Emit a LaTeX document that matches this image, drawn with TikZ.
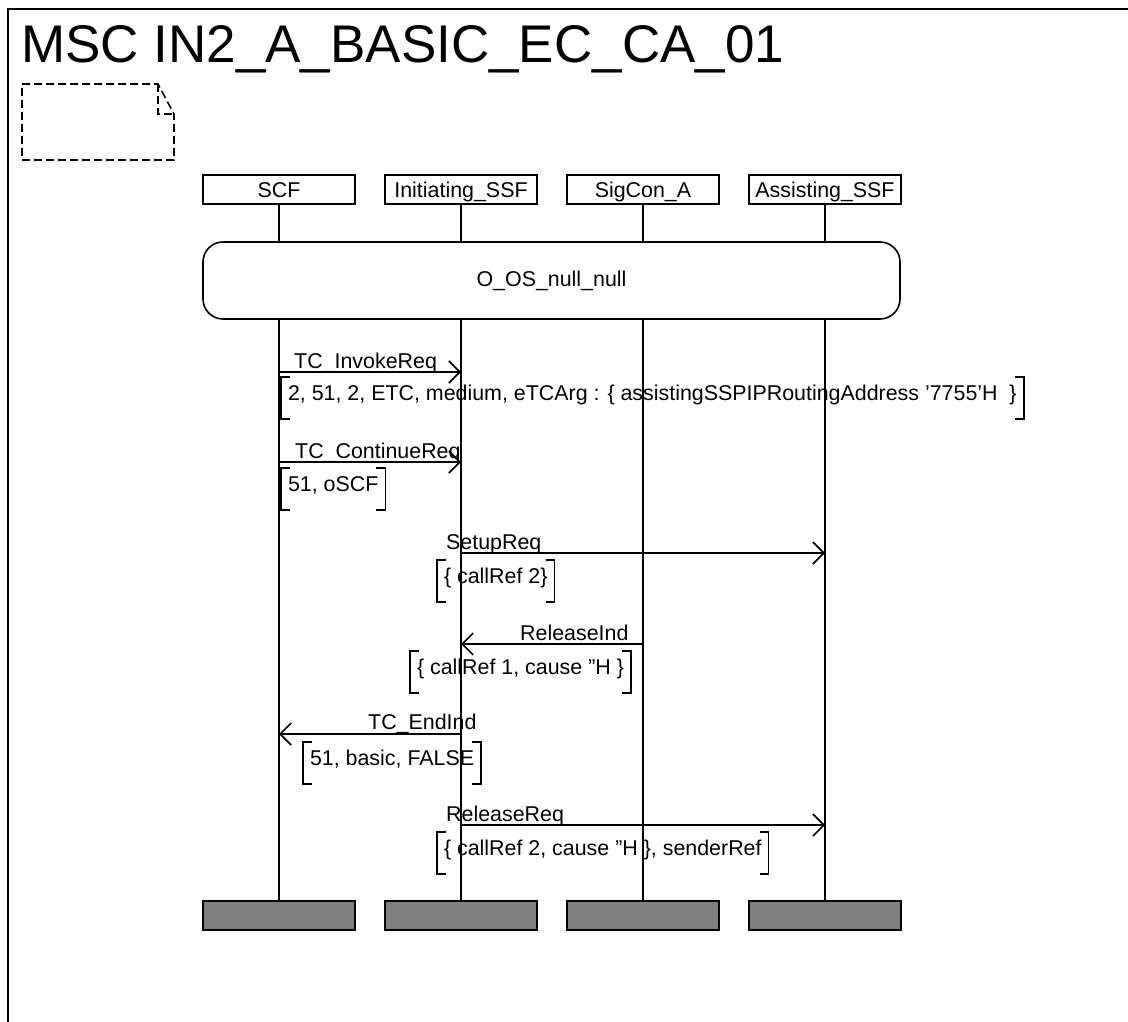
\documentclass[tikz,border=0pt]{standalone}
\usepackage{fontspec}
\setmainfont{Liberation Sans}
\usepackage{xcolor}
\definecolor{cLine}{HTML}{000000}
\definecolor{cStop}{HTML}{808080}
\usepackage{tikz}
\usetikzlibrary{positioning,arrows.meta}
\newcommand{\mscfont}{\fontsize{21.4}{25}\selectfont}
\tikzset{
  msc-head/.style={draw=cLine,line width=1.6pt,minimum width=152pt,
    minimum height=29pt,inner sep=0pt,outer sep=0pt,
    text height=16pt,text depth=0pt,font=\mscfont},
  msc-stop/.style={msc-head,fill=cStop},
  msc-ref/.style={draw=cLine,line width=1.6pt,rounded corners=20pt,
    minimum width=697pt,minimum height=77pt,outer sep=0pt,font=\mscfont},
  lifeline/.style={draw=cLine,line width=1.6pt},
  msg/.style={-{Straight Barb[length=11pt,width=22pt]},line width=1.6pt,draw=cLine},
  msg-label/.style={anchor=base west,inner sep=0pt,font=\mscfont},
  % parameter block: text between square brackets under the message
  param/.style={anchor=north west,inner xsep=7pt,inner ysep=0pt,outer sep=0pt,
    minimum height=42pt,text height=15pt,text depth=11pt,font=\mscfont},
  bracket/.style={draw=cLine,line width=1.6pt},
  note/.style={draw=cLine,line width=1.6pt,dash pattern=on 8pt off 4pt},
}
\newcommand{\parbrackets}[1]{%
  \draw[bracket] ([xshift=9pt]#1.north west) -- (#1.north west) -- (#1.south west) -- ([xshift=9pt]#1.south west);
  \draw[bracket] ([xshift=-9pt]#1.north east) -- (#1.north east) -- (#1.south east) -- ([xshift=-9pt]#1.south east);}

\begin{document}
\begin{tikzpicture}[x=1pt,y=-1pt]
  \useasboundingbox (0,0) rectangle (1128,1022);
  \draw[line width=2pt,draw=cLine] (8,1022) -- (8,9) -- (1128,9);
  \node[anchor=base west,inner sep=0pt,font=\fontsize{53}{60}\selectfont] (title) at (21,63) {MSC IN2\_A\_BASIC\_EC\_CA\_01};
  \draw[note] (22,84) -- (158,84) -- (174,114) -- (174,160) -- (22,160) -- cycle;
  \draw[note] (158,84) -- (158,114) -- (174,114);

  \node[msc-head] (scf) at (279,189.5) {SCF};
  \node[msc-head,right=30pt of scf] (issf) {Initiating\_SSF};
  \node[msc-head,right=30pt of issf] (sigcon) {SigCon\_A};
  \node[msc-head,right=30pt of sigcon] (assf) {Assisting\_SSF};

  \node[msc-ref] (ref) at (551.5,280.5) {O\_OS\_null\_null};

  \node[msc-stop] (scfE) at (279,915.5) {};
  \node[msc-stop,right=30pt of scfE] (issfE) {};
  \node[msc-stop,right=30pt of issfE] (sigconE) {};
  \node[msc-stop,right=30pt of sigconE] (assfE) {};

  \foreach \i in {scf,issf,sigcon,assf} {
    \draw[lifeline] (\i.south) -- (\i.south |- ref.north);
    \draw[lifeline] (\i.south |- ref.south) -- (\i E.north);
  }

  \draw[msg] (scf |- 0,372) -- (issf |- 0,372);
  \node[msg-label] (l1) at (294,368) {TC\_InvokeReq};
  \node[param] (p1) at (281,377) {2, 51, 2, ETC, medium, eTCArg : \{ assistingSSPIPRoutingAddress '7755'H~~\}};
  \parbrackets{p1}

  \draw[msg] (scf |- 0,462) -- (issf |- 0,462);
  \node[msg-label] (l2) at (295,458) {TC\_ContinueReq};
  \node[param] (p2) at (281,468) {51, oSCF};
  \parbrackets{p2}

  \draw[msg] (issf |- 0,553) -- (assf |- 0,553);
  \node[msg-label] (l3) at (446,549) {SetupReq};
  \node[param] (p3) at (437,560) {\{ callRef 2\}};
  \parbrackets{p3}

  \draw[msg] (sigcon |- 0,644) -- (issf |- 0,644);
  \node[msg-label] (l4) at (520,640) {ReleaseInd};
  \node[param] (p4) at (410,651) {\{ callRef 1, cause ''H \}};
  \parbrackets{p4}

  \draw[msg] (issf |- 0,734) -- (scf |- 0,734);
  \node[msg-label] (l5) at (368,729) {TC\_EndInd};
  \node[param] (p5) at (303,742) {51, basic, FALSE};
  \parbrackets{p5}

  \draw[msg] (issf |- 0,825) -- (assf |- 0,825);
  \node[msg-label] (l6) at (446,821) {ReleaseReq};
  \node[param] (p6) at (437,832) {\{ callRef 2, cause ''H \}, senderRef};
  \parbrackets{p6}
\end{tikzpicture}
\end{document}
